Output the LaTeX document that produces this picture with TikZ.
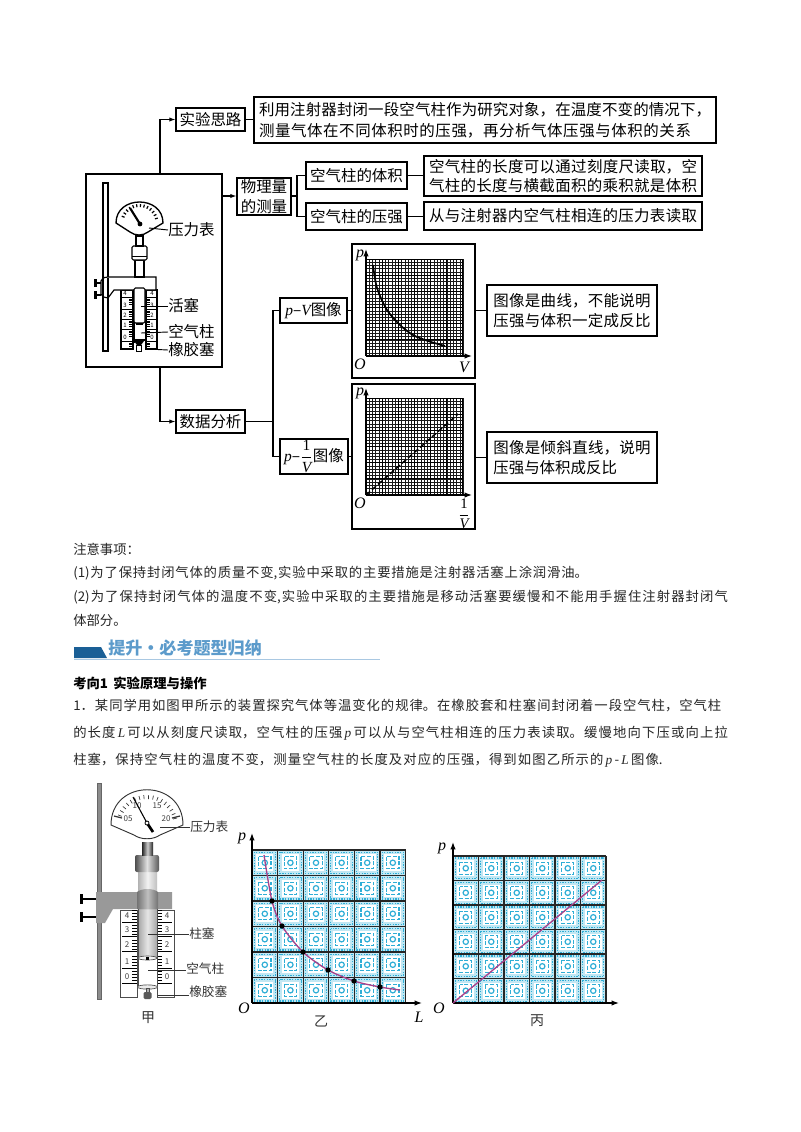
\documentclass[tikz,border=0pt]{standalone}
\usepackage{fontspec}
\setmainfont{Noto Sans CJK SC}
\newfontfamily\latinit{Liberation Serif}[ItalicFont=* Italic]
\usetikzlibrary{arrows.meta,calc}
\XeTeXlinebreaklocale "zh"
\XeTeXlinebreakskip=0pt plus 4pt minus 0.5pt
\hbadness=10000
\hfuzz=5pt
\newcommand{\jl}[2]{\parbox[b]{#1}{\tolerance=10000\pretolerance=10000\parfillskip=0pt\relax\noindent #2}}
\newcommand{\vr}[1]{{\latinit\itshape #1}}
\definecolor{pat}{HTML}{2FAED6}
\definecolor{pur}{HTML}{A8418A}
\definecolor{hdr}{HTML}{1A5F96}
\definecolor{hdrt}{HTML}{5C9BCB}
\definecolor{hdrl}{HTML}{A9C8E2}
\tikzset{
 bx/.style={draw=black,line width=0.9pt,inner sep=0pt,fill=white,font=\fontsize{11.6}{14.5}\selectfont,align=center},
 conn/.style={line width=0.8pt,line cap=round},
 arr/.style={line width=0.8pt,-{Latex[length=4.5pt,width=3.2pt]}},
 lb/.style={inner sep=0pt,anchor=west,font=\fontsize{11.6}{14}\selectfont},
 lbs/.style={inner sep=0pt,anchor=west,font=\fontsize{9.5}{12}\selectfont,text=black!80},
 tl/.style={inner sep=0pt,anchor=west,font=\fontsize{10}{12}\selectfont,text=black!85},
 app/.style={draw=black,line width=0.85pt,fill=white},
 axl/.style={inner sep=0pt,font=\fontsize{12}{14}\selectfont\latinit\itshape},
 axn/.style={line width=0.9pt,-{Latex[length=5.5pt,width=4pt]}},
 num/.style={inner sep=0pt,font=\fontsize{4.5}{5}\selectfont},
 numb/.style={inner sep=0pt,font=\fontsize{6}{7}\selectfont,text=black!75}
}
\newcommand{\bxn}[6]{\node[bx,minimum width={(#4-#2)*0.75pt},minimum height={(#5-#3)*0.75pt}] (#1) at ({(#2+#4)/2},{(#3+#5)/2}) {#6};}
\newcommand{\finegrid}[2]{%
 \begin{scope}[shift={(#1,#2)}]
 \foreach \i in {0,...,30}{\draw[line width=0.35pt,black!90] ({\i*3.233},0)--({\i*3.233},97) (0,{\i*3.233})--(97,{\i*3.233});}
 \foreach \i in {0,5,...,30}{\draw[line width=0.75pt,black] ({\i*3.233},0)--({\i*3.233},97) (0,{\i*3.233})--(97,{\i*3.233});}
 \end{scope}}
\newcommand{\patgrid}[4]{%
 \begin{scope}[shift={(#1,#2)},x=#3*0.75pt,y=-#4*0.75pt]
 \fill[pat!30] (0,0) rectangle (6,6);
 \foreach \i in {0,...,5}{\foreach \j in {0,...,5}{
  \fill[white] (\i+0.17,\j+0.17) rectangle (\i+0.83,\j+0.83);
  \draw[pat,line width=0.8pt,dash pattern=on 1pt off 1pt] (\i+0.08,\j+0.08) rectangle (\i+0.92,\j+0.92);
  \draw[pat,line width=0.9pt,dash pattern=on 3pt off 1.2pt] (\i+0.26,\j+0.26) rectangle (\i+0.74,\j+0.74);
  \draw[pat,line width=0.9pt] (\i+0.5,\j+0.5) circle [radius=2pt];
 }}
 \foreach \i in {0,...,6}{\draw[black!85,line width=0.95pt] (\i,0) -- (\i,6) (0,\i) -- (6,\i);}
 \end{scope}}
\begin{document}
\begin{tikzpicture}[x=0.75pt,y=-0.75pt]
\useasboundingbox (0,0) rectangle (800,1132);
\fill[white] (0,0) rectangle (800,1132);

% ---------- flow chart boxes
\bxn{mainb}{86}{174}{222}{367}{}
\bxn{sy}{176}{108}{245}{131}{实验思路}
\bxn{sylong}{254}{97}{716}{143}{\jl{339pt}{利用注射器封闭一段空气柱作为研究对象，在温度不变的情况下，}\\[1pt]\makebox[339pt][l]{\jl{324pt}{测量气体在不同体积时的压强，再分析气体压强与体积的关系}}}
\bxn{wl}{237}{178}{291}{215}{物理量\\的测量}
\bxn{tj}{306}{162}{407}{189}{空气柱的体积}
\bxn{yq}{306}{203}{407}{230}{空气柱的压强}
\bxn{tjt}{424}{156}{702}{196}{\jl{201pt}{空气柱的长度可以通过刻度尺读取，空}\\\jl{201pt}{气柱的长度与横截面积的乘积就是体积}}
\bxn{yqt}{424}{202}{702}{230}{\jl{201pt}{从与注射器内空气柱相连的压力表读取}}
\bxn{sj}{176}{410}{245}{433}{数据分析}
\bxn{pv}{280}{298}{347}{323}{\vr{p}–\vr{V}图像}
\bxn{pv2}{280}{439}{348}{474}{\vr{p}–$\displaystyle\frac{\mbox{\latinit 1}}{\mbox{\vr{V}}}$图像}
\bxn{pa}{352}{244}{475}{378}{}
\bxn{pb}{352}{384}{475}{529}{}
\bxn{ta}{487}{285}{657}{336}{\jl{118pt}{图像是曲线，不能说明}\\\jl{118pt}{压强与体积一定成反比}}
\bxn{tb}{487}{432}{657}{483}{\jl{118pt}{图像是倾斜直线，说明}\\\makebox[118pt][l]{压强与体积成反比}}

% ---------- connectors
\coordinate (mt) at (160,174);
\coordinate (mb) at (160,367);
\coordinate (mr) at (222,196);
\coordinate (fa) at (297,196);
\coordinate (fb) at (273,421.5);
\draw[arr] (mt) |- (sy.west);
\draw[conn] (sy.east) -- (sylong.west |- sy.east);
\draw[arr] (mr) -- (wl.west |- mr);
\draw[conn] (wl.east |- fa) -- (fa);
\draw[conn] (fa) |- (tj.west);
\draw[conn] (fa) |- (yq.west);
\draw[conn] (tj.east) -- (tjt.west |- tj.east);
\draw[conn] (yq.east) -- (yqt.west |- yq.east);
\draw[arr] (mb) |- (sj.west);
\draw[conn] (sj.east) -- (fb);
\draw[conn] (fb) |- (pv.west);
\draw[conn] (fb) |- (pv2.west);
\draw[conn] (pv.east) -- (pa.west |- pv.east);
\draw[conn] (pv2.east) -- (pb.west |- pv2.east);
\draw[conn] (pa.east |- ta.west) -- (ta.west);
\draw[conn] (pb.east |- tb.west) -- (tb.west);

% ---------- upper plots
\finegrid{366}{259}
\finegrid{366}{398}
\draw[axn] (366,356) -- (366,249);
\draw[axn] (366,356) -- (472,356);
\draw[axn] (366,495) -- (366,388);
\draw[axn] (366,495) -- (472,495);
\node[axl] (pap) at (360,255) {p};
\node[axl] (pao) at (360,364) {O};
\node[axl] (pav) at (464,367) {V};
\node[axl] (pbp) at (360,393) {p};
\node[axl] (pbo) at (360,503) {O};
\node[inner sep=0pt,font=\fontsize{11}{13}\selectfont] (pbv) at (464,514) {$\displaystyle\frac{\mbox{\latinit 1}}{\mbox{\vr{V}}}$};
\draw[line width=1.3pt] plot[smooth] coordinates {(373,265) (377,288) (387,310) (400,325) (413,335) (428,341) (445,346)};
\draw[line width=1.1pt,dash pattern=on 4pt off 2pt] (366,495) -- (458,414);

% ---------- apparatus 1
\draw[app] (103,183) rectangle (108,351);
\draw[app] (121,290) rectangle (133,349);
\draw[app] (146,290) rectangle (157,349);
\foreach \y/\n in {293/4,305/3,315/2,325/1,337/0}{
 \node[num] (la\n) at (125,\y) {\n};
 \node[num] (ra\n) at (152,\y) {\n};
 \draw[line width=0.35pt] (121,\y+4)--(133,\y+4) (146,\y+4)--(157,\y+4);
 \foreach \d in {1.8,3.6,5.4,7.2}{\draw[line width=0.3pt] (129,\y+4+\d)--(133,\y+4+\d) (146,\y+4+\d)--(150,\y+4+\d);}
}
\draw[app] (101,281) .. controls (103,277) and (106,277) .. (108,277) -- (156,277) -- (156,290) -- (114,290) -- (108,298) .. controls (105,298) and (103,297) .. (101,294) -- cycle;
\draw[line width=0.85pt] (103,277.5)--(103,297) (108,277.5)--(108,298);
\draw[app] (135,260) rectangle (144,277);
\draw[app,rounded corners=1pt] (132,246) rectangle (147,260);
\draw[line width=0.7pt] (132,256)--(147,256);
\draw[app] (136,236) rectangle (143,246);
\draw[line width=0.6pt] (134,290)--(134,343) (145,290)--(145,343);
\draw[app,rounded corners=1pt] (134,288) rectangle (145,323);
\fill (136,323) rectangle (143,324.5);
\draw[line width=1.2pt] (133,340)--(145,340);
\fill (134,341) -- (144,341) -- (141,345) -- (137,345) -- cycle;
\draw[line width=0.7pt,fill=white] (136.5,345) rectangle (141.5,351);
\foreach \y in {279,291}{
 \fill (93.5,\y) rectangle (96.5,\y+8);
 \draw[line width=1.4pt] (96.5,\y+4) -- (101,\y+4);
}
\draw[app,line width=1pt] (116,223) .. controls (116,195) and (163,195) .. (163,223) -- (148,232) .. controls (143,236) and (135,236) .. (130,232) -- cycle;
\foreach \a in {15,27,...,165}{\draw[line width=0.9pt] ($(139.5,223)+({\a}:19 and -19)$) -- ($(139.5,223)+({\a}:16 and -16)$);}
\draw[line width=1.6pt] (130,208) -- (140,224);
\fill (140,224) circle [radius=1.8pt];

\node[lb] (a1) at (168,230) {压力表};
\node[lb] (a2) at (168,306) {活塞};
\node[lb] (a3) at (168,332) {空气柱};
\node[lb] (a4) at (168,350) {橡胶塞};
\coordinate (a1s) at (149,228);
\coordinate (a2s) at (141,306);
\coordinate (a3s) at (141,333);
\coordinate (a4s) at (147,349);
\draw[line width=0.7pt] (a1s) -- (a1.west);
\draw[line width=0.7pt] (a2s) -- (a2.west);
\draw[line width=0.7pt] (a3s) -- (a3.west);
\draw[line width=0.7pt] (a4s) -- (a4.west);

% ---------- paragraphs
\node[tl] (n0) at (73,549) {注意事项：};
\node[tl] (n1) at (73,573) {\jl{386pt}{(1)为了保持封闭气体的质量不变,实验中采取的主要措施是注射器活塞上涂润滑油。}};
\node[tl] (n2) at (73,597) {\jl{491pt}{(2)为了保持封闭气体的温度不变,实验中采取的主要措施是移动活塞要缓慢和不能用手握住注射器封闭气}};
\node[tl] (n3) at (73,620) {体部分。};

% ---------- section header
\fill[hdr] (74,647) -- (101,647) -- (107,658) -- (74,658) -- cycle;
\draw[hdrl,line width=0.8pt] (74,659.5) -- (380,659.5);
\node[inner sep=0pt,anchor=west,text=hdrt,font=\fontsize{12.8}{14}\selectfont\bfseries] (hd) at (108,648) {提升·必考题型归纳};
\node[inner sep=0pt,anchor=west,font=\fontsize{10}{12}\selectfont\bfseries] (kx) at (73,683) {考向1\hspace{0.4em}实验原理与操作};
\node[tl] (q1) at (73,706) {\jl{486pt}{1．某同学用如图甲所示的装置探究气体等温变化的规律。在橡胶套和柱塞间封闭着一段空气柱，空气柱}};
\node[tl] (q2) at (73,733) {\jl{491pt}{的长度\,\vr{L}\,可以从刻度尺读取，空气柱的压强\,\vr{p}\,可以从与空气柱相连的压力表读取。缓慢地向下压或向上拉}};
\node[tl] (q3) at (73,760) {\jl{442pt}{柱塞，保持空气柱的温度不变，测量空气柱的长度及对应的压强，得到如图乙所示的\,\vr{p}\,-\,\vr{L}\,图像.}};

% ---------- apparatus 2
\draw[black!60,line width=0.5pt,fill=black!45] (97,783) rectangle (101,999);
\draw[black!70,line width=0.5pt,fill=white] (120,910) rectangle (137,997);
\draw[black!70,line width=0.5pt,fill=white] (157,910) rectangle (174,997);
\foreach \y/\n in {916/4,930/3,945/2,962/1,977/0}{
 \node[numb] (lb\n) at (127,\y) {\n};
 \node[numb] (rb\n) at (167,\y) {\n};
 \draw[line width=0.4pt] (122,\y+6)--(137,\y+6) (157,\y+6)--(172,\y+6);
}
\foreach \y in {922,937,952,968,983}{\foreach \d in {3,6,9,12}{
 \draw[line width=0.3pt] (132,\y-\d)--(137,\y-\d) (157,\y-\d)--(162,\y-\d);}}
\fill[white] (138,958) rectangle (157,988);
\draw[black!70,line width=0.4pt] (138,958)--(138,988) (157,958)--(157,988);
\shade[left color=black!35,right color=black!35,middle color=black!10] (138,908) rectangle (157,958);
\draw[black!70,line width=0.4pt] (138,908) rectangle (157,958);
\draw[black!70,line width=0.5pt,fill=black!5] (147.5,958) ellipse [x radius=7.1pt,y radius=1.5pt];
\fill (145.5,956.5) rectangle (148.5,959.5);
\draw[black!70,line width=0.5pt,fill=black!8] (147.5,987) ellipse [x radius=7.5pt,y radius=1.6pt];
\draw[black!70,fill=black!30,line width=0.4pt] (146,988) rectangle (149,992);
\fill[black!65,rounded corners=1pt] (143.5,992) rectangle (151.5,999);
\shade[left color=black!30,right color=black!25,middle color=black!5] (138,872) rectangle (157,892);
\fill[black!40] (96,892) -- (172,892) -- (172,909) -- (113,909) -- (105,923) -- (96,923) -- cycle;
\shade[left color=black!55,right color=black!55,middle color=black!25] (137,892) .. controls (142,888) and (153,888) .. (158,892) -- (158,909) -- (137,909) -- cycle;
\shade[left color=black!70,right color=black!65,middle color=black!12,rounded corners=1.5pt] (135,855) rectangle (159,872);
\shade[left color=black!85,right color=black!85,middle color=black!20] (142,842) rectangle (153,855);
\foreach \y in {899,917}{
 \fill[black] (80,\y-5) rectangle (83,\y+5);
 \draw[line width=1.6pt] (83,\y) -- (96,\y);
}
\draw[black!80,line width=0.7pt,fill=white] (111,825) .. controls (111,778) and (183,778) .. (183,825) -- (160,835) .. controls (153,840) and (141,840) .. (134,835) -- cycle;
\foreach \a in {15,24,...,165}{\draw[line width=0.5pt,black!80] ($(147,826)+({\a}:31 and -31)$) -- ($(147,826)+({\a}:27 and -27)$);}
\draw[black!80,line width=0.9pt] (114,816) -- (122,818) (172,818) -- (180,816);
\node[numb] (d05) at (128,819) {05};
\node[numb] (d10) at (137,806) {10};
\node[numb] (d15) at (157,806) {15};
\node[numb] (d20) at (166,819) {20};
\draw[line width=0.8pt] (133,797) -- (147,823);
\draw[line width=2pt] (147,823) -- (153,832);
\draw[fill=white,line width=0.6pt] (147,823) circle [radius=1.5pt];

\node[lbs] (b1) at (190,827) {压力表};
\node[lbs] (b2) at (189,934) {柱塞};
\node[lbs] (b3) at (186,969) {空气柱};
\node[lbs] (b4) at (189,992) {橡胶塞};
\node[inner sep=0pt,font=\fontsize{10.5}{12}\selectfont,text=black!80] (jia) at (148,1018) {甲};
\coordinate (b1s) at (160,827);
\coordinate (b2s) at (148,934);
\coordinate (b3s) at (148,970);
\coordinate (b4s) at (158,995);
\draw[line width=0.5pt,black!80] (b1s) -- (b1.west);
\draw[line width=0.5pt,black!80] (b2s) -- (b2.west);
\draw[line width=0.5pt,black!80] (b3s) -- (b3.west |- b3s);
\draw[line width=0.5pt,black!80] (b4s) -- (b4.west |- b4s);

% ---------- plot yi
\patgrid{252}{850}{25.6}{25.5}
\draw[axn] (252,1003) -- (252,833);
\draw[axn] (252,1003) -- (422,1003);
\node[axl] (yp) at (242,838) {p};
\node[axl] (yo) at (244,1008) {O};
\node[axl] (yl) at (419,1017) {L};
\node[inner sep=0pt,font=\fontsize{10.5}{12}\selectfont,text=black!80] (yi) at (321,1021) {乙};
\draw[pur,line width=1pt] plot[smooth] coordinates {(264,855) (272,901) (282,926) (303,952) (328,970) (354,981) (380,987) (400,990)};
\foreach \x/\y in {272/901,282/926,303/952,328/970,354/981,380/987}{\fill (\x,\y) circle [radius=2pt];}

% ---------- plot bing
\patgrid{453}{856}{25.5}{24.5}
\draw[axn] (453,1003) -- (453,842);
\draw[axn] (453,1003) -- (619,1003);
\node[axl] (bp) at (442,848) {p};
\node[axl] (bo) at (439,1008) {O};
\node[inner sep=0pt,font=\fontsize{10.5}{12}\selectfont,text=black!80] (bg) at (537,1021) {丙};
\draw[pur,line width=1pt] (453,1003) -- (602,880);
\end{tikzpicture}
\end{document}
